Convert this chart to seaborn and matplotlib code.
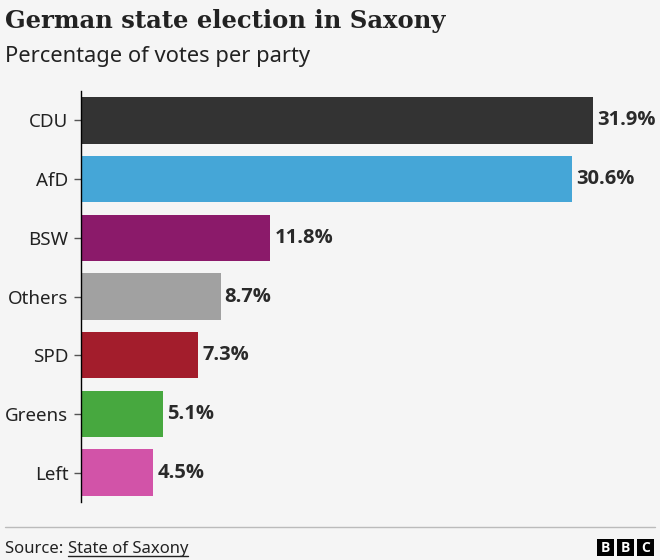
import matplotlib
matplotlib.use("Agg")
import matplotlib.pyplot as plt
import seaborn as sns
import pandas as pd
from matplotlib.patches import Rectangle
from matplotlib.lines import Line2D

# ---- data ----
parties = ["CDU", "AfD", "BSW", "Others", "SPD", "Greens", "Left"]
votes = [31.9, 30.6, 11.8, 8.7, 7.3, 5.1, 4.5]
colors = ["#333333", "#45a6d7", "#8b1a6a", "#a1a1a1", "#a31d2c", "#47a83f", "#d253a8"]
title = "German state election in Saxony"
subtitle = "Percentage of votes per party"
source_prefix = "Source: "
source_name = "State of Saxony"

sns.set_theme(style="white")
plt.rcParams['font.family'] = ['Noto Sans', 'DejaVu Sans']

BG = "#f5f5f5"
W, H = 660, 560
fig = plt.figure(figsize=(6.6, 5.6), dpi=100, facecolor=BG)
ax = fig.add_axes([81 / W, 1 - 502 / H, (620 - 81) / W, (502 - 91) / H])
ax.set_facecolor(BG)

df = pd.DataFrame({"party": parties, "votes": votes})
sns.barplot(data=df, x="votes", y="party", hue="party", order=parties,
            hue_order=parties, palette=dict(zip(parties, colors)),
            width=0.79, saturation=1, legend=False, linewidth=0,
            edgecolor="none", ax=ax)

for container, v in zip(ax.containers, votes):
    ax.bar_label(container, labels=[f"{v}%"], padding=3, fontsize=14.5,
                 fontweight="bold", family=["Open Sans", "DejaVu Sans"],
                 color="#2a2a2a")

ax.set_xlim(0, 33.6)
ax.set_ylim(6.5, -0.5)
ax.set_xlabel("")
ax.set_ylabel("")
ax.set_xticks([])
for s in ["top", "right", "bottom"]:
    ax.spines[s].set_visible(False)
ax.spines["left"].set_color("#000000")
ax.spines["left"].set_linewidth(1.0)
ax.tick_params(axis="y", length=5, width=1, color="#555555", labelsize=13.5,
               labelcolor="#222222", pad=4, left=True)

fig.text(5 / W, 1 - 28 / H, title, fontsize=17.5, fontweight="bold",
         family=["DejaVu Serif"], color="#222222", ha="left", va="baseline")
fig.text(5 / W, 1 - 62 / H, subtitle, fontsize=15.8, color="#222222",
         ha="left", va="baseline")

fig.add_artist(Line2D([5 / W, 655 / W], [1 - 527 / H, 1 - 527 / H],
                      color="#bbbbbb", lw=1, transform=fig.transFigure))

t1 = fig.text(5 / W, 1 - 553 / H, source_prefix, fontsize=12, color="#222222",
              ha="left", va="baseline")
fig.canvas.draw()
r = fig.canvas.get_renderer()
bb1 = t1.get_window_extent(r)
t2 = fig.text(bb1.x1 / W, 1 - 553 / H, source_name, fontsize=12,
              color="#222222", ha="left", va="baseline")
bb2 = t2.get_window_extent(r)
uy = (H - 556) / H
fig.add_artist(Line2D([bb2.x0 / W, bb2.x1 / W], [uy, uy], color="#222222",
                      lw=1, transform=fig.transFigure))

for i, letter in enumerate("BBC"):
    x0 = 597 + i * 20
    fig.add_artist(Rectangle((x0 / W, 1 - 556 / H), 17 / W, 17 / H,
                             facecolor="#000000", edgecolor="none",
                             transform=fig.transFigure))
    fig.text((x0 + 8.5) / W, 1 - 547.5 / H, letter, fontsize=10,
             fontweight="bold", family=["Open Sans", "DejaVu Sans"],
             color="white", ha="center", va="center")

fig.savefig("out.png", dpi=100, facecolor=BG)
